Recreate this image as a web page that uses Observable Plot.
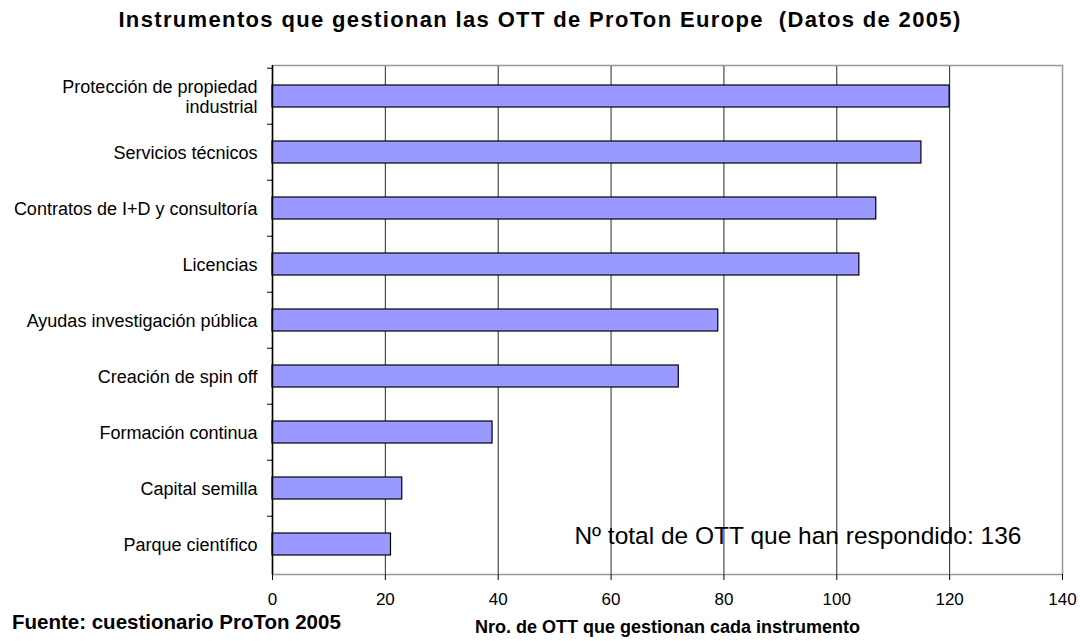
<!DOCTYPE html>
<html>
<head>
<meta charset="utf-8">
<script src="https://cdn.jsdelivr.net/npm/d3@7"></script>
<script src="https://cdn.jsdelivr.net/npm/@observablehq/plot@0.6"></script>
<style>
  html, body { margin: 0; padding: 0; background: #fff; }
  body { width: 1080px; height: 641px; position: relative; overflow: hidden; font-family: "Liberation Sans", Arial, sans-serif; }
  #title { height: 44px; line-height: 40px; text-align: center; font-weight: bold; font-size: 22px; letter-spacing: 1.35px; color: #000; white-space: pre; }
  #source { position: absolute; left: 12px; top: 611px; font-weight: bold; font-size: 20.5px; line-height: 22px; color: #000; }
</style>
</head>
<body>
<div id="title">Instrumentos que gestionan las OTT de ProTon Europe  (Datos de 2005)</div>
<div id="chart"></div>
<div id="source">Fuente: cuestionario ProTon 2005</div>
<script>
const categories = [
  "Protección de propiedad\nindustrial",
  "Servicios técnicos",
  "Contratos de I+D y consultoría",
  "Licencias",
  "Ayudas investigación pública",
  "Creación de spin off",
  "Formación continua",
  "Capital semilla",
  "Parque científico"
];
const values = [120, 115, 107, 104, 79, 72, 39, 23, 21];
const xTicks = [0, 20, 40, 60, 80, 100, 120, 140];
const xLabel = "Nro. de OTT que gestionan cada instrumento";
const note = "Nº total de OTT que han respondido: 136";

const data = categories.map((c, i) => ({category: c, value: values[i]}));

const W = 1080, H = 597, MT = 21, MB = 67, ML = 272, MR = 18;
const step = (H - MT - MB) / categories.length;

const chart = Plot.plot({
  width: W,
  height: H,
  marginTop: MT,
  marginBottom: MB,
  marginLeft: ML,
  marginRight: MR,
  style: {fontFamily: "'Liberation Sans', Arial, sans-serif", fontSize: "18px", color: "#000", background: "#fff"},
  x: {domain: [0, 140], ticks: xTicks},
  y: {domain: categories, padding: 0},
  marks: [
    Plot.gridX(xTicks.filter(t => t > 0 && t < 140), {stroke: "#000", strokeOpacity: 0.85, strokeWidth: 1}),
    Plot.frame({stroke: "#999", strokeWidth: 1.5}),
    Plot.barX(data, {x: "value", y: "category", fill: "#9999ff", stroke: "#000", strokeWidth: 1.2, insetTop: 17, insetBottom: 17}),
    Plot.ruleX([0], {stroke: "#000", strokeWidth: 1.5}),
    Plot.axisX({ticks: xTicks, tickSize: 6, tickPadding: 12, fontSize: 17, label: xLabel, labelAnchor: "center", labelArrow: "none", labelOffset: 58}),
    Plot.axisY({tickSize: 0, tickPadding: 15, fontSize: 18, lineHeight: 1.1, label: null}),
    Plot.axisY({tickSize: 5, tickFormat: () => "", label: null, dy: -step / 2}),
    Plot.text([note], {frameAnchor: "bottom-right", dx: -41, dy: -38, textAnchor: "end", lineAnchor: "middle", fontSize: 24.5, fill: "#000"})
  ]
});
document.getElementById("chart").appendChild(chart);

const svg = d3.select(chart);

// center the multi-line category label as a block (right edge stays at the axis padding)
svg.selectAll("text").each(function() {
  const t = d3.select(this);
  const tsp = t.selectAll("tspan");
  if (tsp.size() > 1 && t.attr("text-anchor") === "end") {
    const w = this.getBBox().width;
    t.attr("text-anchor", "middle");
    tsp.attr("x", -w / 2 + (+tsp.attr("x") || 0));
  }
});
// x axis label bold
svg.selectAll("g[aria-label='x-axis label'] text").style("font-weight", "bold").style("font-size", "18px");
</script>
</body>
</html>
